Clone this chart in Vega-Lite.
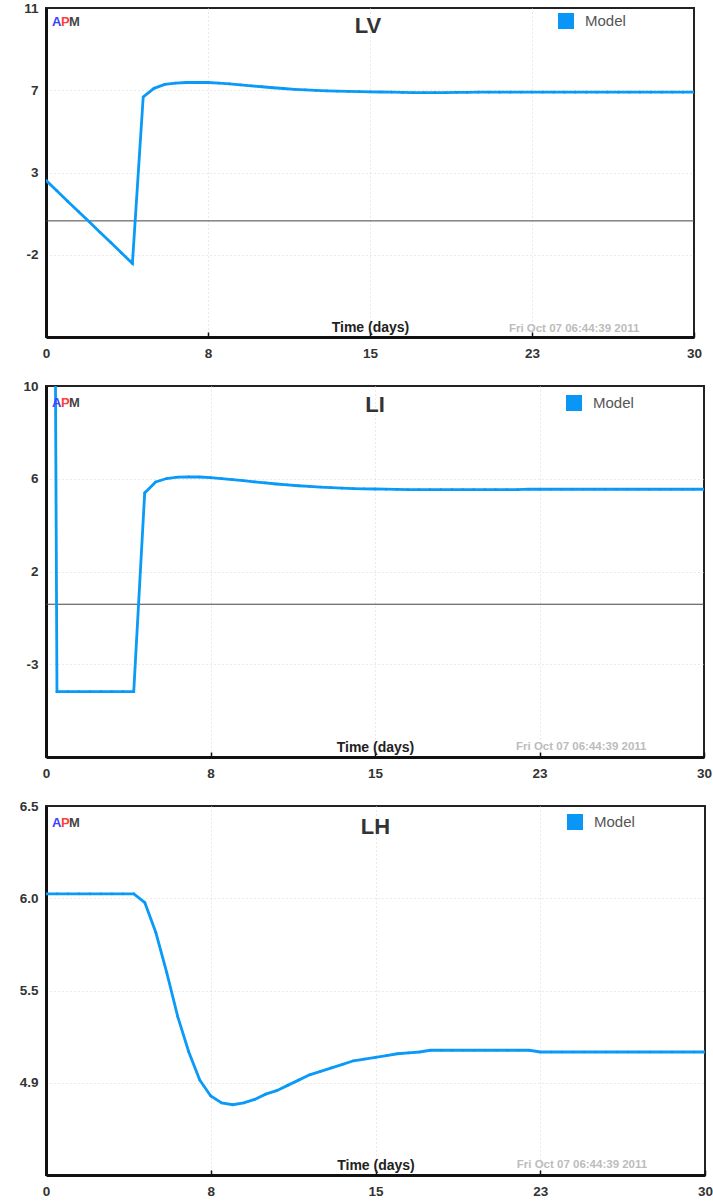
{
  "$schema": "https://vega.github.io/schema/vega-lite/v6.json",
  "background": "white",
  "padding": {"left": 18, "top": 0, "right": 0, "bottom": 0},
  "spacing": 49,
  "bounds": "flush",
  "datasets": {
    "lv": [
      {"t": 0, "v": 2.1}, {"t": 0.5, "v": 1.56}, {"t": 1, "v": 1.02}, {"t": 1.5, "v": 0.49}, {"t": 2, "v": -0.05},
      {"t": 2.5, "v": -0.59}, {"t": 3, "v": -1.12}, {"t": 3.5, "v": -1.66}, {"t": 4, "v": -2.2}, {"t": 4.5, "v": 6.4},
      {"t": 5, "v": 6.85}, {"t": 5.5, "v": 7.05}, {"t": 6, "v": 7.12}, {"t": 6.5, "v": 7.15}, {"t": 7, "v": 7.16},
      {"t": 7.5, "v": 7.15}, {"t": 8, "v": 7.12}, {"t": 8.5, "v": 7.08}, {"t": 9, "v": 7.03}, {"t": 9.5, "v": 6.98},
      {"t": 10, "v": 6.93}, {"t": 10.5, "v": 6.88}, {"t": 11, "v": 6.84}, {"t": 11.5, "v": 6.8}, {"t": 12, "v": 6.77},
      {"t": 12.5, "v": 6.74}, {"t": 13, "v": 6.72}, {"t": 13.5, "v": 6.7}, {"t": 14, "v": 6.69}, {"t": 14.5, "v": 6.68},
      {"t": 15, "v": 6.67}, {"t": 15.5, "v": 6.66}, {"t": 16, "v": 6.65}, {"t": 16.5, "v": 6.64}, {"t": 17, "v": 6.63},
      {"t": 17.5, "v": 6.63}, {"t": 18, "v": 6.63}, {"t": 18.5, "v": 6.63}, {"t": 19, "v": 6.64}, {"t": 19.5, "v": 6.64},
      {"t": 20, "v": 6.65}, {"t": 20.5, "v": 6.65}, {"t": 21, "v": 6.65}, {"t": 21.5, "v": 6.65}, {"t": 22, "v": 6.65},
      {"t": 22.5, "v": 6.65}, {"t": 23, "v": 6.65}, {"t": 23.5, "v": 6.65}, {"t": 24, "v": 6.65}, {"t": 24.5, "v": 6.65},
      {"t": 25, "v": 6.65}, {"t": 25.5, "v": 6.65}, {"t": 26, "v": 6.65}, {"t": 26.5, "v": 6.65}, {"t": 27, "v": 6.65},
      {"t": 27.5, "v": 6.65}, {"t": 28, "v": 6.65}, {"t": 28.5, "v": 6.65}, {"t": 29, "v": 6.65}, {"t": 29.5, "v": 6.65},
      {"t": 30, "v": 6.65}
    ],
    "li": [
      {"t": 0, "v": 100}, {"t": 0.5, "v": -4}, {"t": 1, "v": -4}, {"t": 1.5, "v": -4}, {"t": 2, "v": -4},
      {"t": 2.5, "v": -4}, {"t": 3, "v": -4}, {"t": 3.5, "v": -4}, {"t": 4, "v": -4}, {"t": 4.5, "v": 5.1},
      {"t": 5, "v": 5.6}, {"t": 5.5, "v": 5.76}, {"t": 6, "v": 5.82}, {"t": 6.5, "v": 5.84}, {"t": 7, "v": 5.83},
      {"t": 7.5, "v": 5.8}, {"t": 8, "v": 5.76}, {"t": 8.5, "v": 5.71}, {"t": 9, "v": 5.66}, {"t": 9.5, "v": 5.61},
      {"t": 10, "v": 5.56}, {"t": 10.5, "v": 5.51}, {"t": 11, "v": 5.47}, {"t": 11.5, "v": 5.43}, {"t": 12, "v": 5.4},
      {"t": 12.5, "v": 5.37}, {"t": 13, "v": 5.34}, {"t": 13.5, "v": 5.32}, {"t": 14, "v": 5.3}, {"t": 14.5, "v": 5.29},
      {"t": 15, "v": 5.28}, {"t": 15.5, "v": 5.27}, {"t": 16, "v": 5.26}, {"t": 16.5, "v": 5.25}, {"t": 17, "v": 5.25},
      {"t": 17.5, "v": 5.25}, {"t": 18, "v": 5.25}, {"t": 18.5, "v": 5.25}, {"t": 19, "v": 5.25}, {"t": 19.5, "v": 5.25},
      {"t": 20, "v": 5.25}, {"t": 20.5, "v": 5.25}, {"t": 21, "v": 5.25}, {"t": 21.5, "v": 5.25}, {"t": 22, "v": 5.27},
      {"t": 22.5, "v": 5.27}, {"t": 23, "v": 5.27}, {"t": 23.5, "v": 5.27}, {"t": 24, "v": 5.27}, {"t": 24.5, "v": 5.27},
      {"t": 25, "v": 5.27}, {"t": 25.5, "v": 5.27}, {"t": 26, "v": 5.27}, {"t": 26.5, "v": 5.27}, {"t": 27, "v": 5.27},
      {"t": 27.5, "v": 5.27}, {"t": 28, "v": 5.27}, {"t": 28.5, "v": 5.27}, {"t": 29, "v": 5.27}, {"t": 29.5, "v": 5.27},
      {"t": 30, "v": 5.27}
    ],
    "lh": [
      {"t": 0, "v": 6.0}, {"t": 0.5, "v": 6.0}, {"t": 1, "v": 6.0}, {"t": 1.5, "v": 6.0}, {"t": 2, "v": 6.0},
      {"t": 2.5, "v": 6.0}, {"t": 3, "v": 6.0}, {"t": 3.5, "v": 6.0}, {"t": 4, "v": 6.0}, {"t": 4.5, "v": 5.95},
      {"t": 5, "v": 5.78}, {"t": 5.5, "v": 5.55}, {"t": 6, "v": 5.3}, {"t": 6.5, "v": 5.1}, {"t": 7, "v": 4.94},
      {"t": 7.5, "v": 4.85}, {"t": 8, "v": 4.81}, {"t": 8.5, "v": 4.8}, {"t": 9, "v": 4.81}, {"t": 9.5, "v": 4.83},
      {"t": 10, "v": 4.86}, {"t": 10.5, "v": 4.88}, {"t": 11, "v": 4.91}, {"t": 11.5, "v": 4.94}, {"t": 12, "v": 4.97},
      {"t": 12.5, "v": 4.99}, {"t": 13, "v": 5.01}, {"t": 13.5, "v": 5.03}, {"t": 14, "v": 5.05}, {"t": 14.5, "v": 5.06},
      {"t": 15, "v": 5.07}, {"t": 15.5, "v": 5.08}, {"t": 16, "v": 5.09}, {"t": 16.5, "v": 5.095}, {"t": 17, "v": 5.1},
      {"t": 17.5, "v": 5.11}, {"t": 18, "v": 5.11}, {"t": 18.5, "v": 5.11}, {"t": 19, "v": 5.11}, {"t": 19.5, "v": 5.11},
      {"t": 20, "v": 5.11}, {"t": 20.5, "v": 5.11}, {"t": 21, "v": 5.11}, {"t": 21.5, "v": 5.11}, {"t": 22, "v": 5.11},
      {"t": 22.5, "v": 5.1}, {"t": 23, "v": 5.1}, {"t": 23.5, "v": 5.1}, {"t": 24, "v": 5.1}, {"t": 24.5, "v": 5.1},
      {"t": 25, "v": 5.1}, {"t": 25.5, "v": 5.1}, {"t": 26, "v": 5.1}, {"t": 26.5, "v": 5.1}, {"t": 27, "v": 5.1},
      {"t": 27.5, "v": 5.1}, {"t": 28, "v": 5.1}, {"t": 28.5, "v": 5.1}, {"t": 29, "v": 5.1}, {"t": 29.5, "v": 5.1},
      {"t": 30, "v": 5.1}
    ]
  },
  "resolve": {"legend": {"color": "independent"}},
  "vconcat": [
    {
      "width": 648,
      "height": 329,
      "layer": [
        {
          "data": {"values": [{"z": 0}]},
          "mark": {"type": "rule", "color": "#444", "strokeWidth": 1},
          "encoding": {"y": {"field": "z", "type": "quantitative"}}
        },
        {
          "data": {"name": "lv"},
          "mark": {"type": "line", "color": "#0a9af7", "strokeWidth": 2.8, "clip": true},
          "encoding": {
            "x": {"field": "t", "type": "quantitative", "scale": {"domain": [0, 30], "nice": false}, "axis": {"title": "Time (days)", "values": [0, 7.5, 15, 22.5, 30], "labelExpr": "'' + round(datum.value)"}},
            "y": {"field": "v", "type": "quantitative", "scale": {"domain": [-6, 11], "nice": false, "zero": false}, "axis": {"title": null, "values": [11, 6.75, 2.5, -1.75], "labelExpr": "'' + round(datum.value)", "gridColor": {"condition": {"test": "datum.value >= 11", "value": "transparent"}, "value": "#d4d4d4"}}}
          }
        },
        {
          "data": {"name": "lv"},
          "mark": {"type": "point", "filled": true, "size": 7, "opacity": 1, "clip": true},
          "encoding": {
            "x": {"field": "t", "type": "quantitative"},
            "y": {"field": "v", "type": "quantitative"},
            "color": {"datum": "Model", "scale": {"domain": ["Model"], "range": ["#0a96f7"]}, "legend": {"orient": "none", "legendX": 512, "legendY": 5}}
          }
        },
        {
          "data": {"values": [{"x": 0, "y": 11, "s": "A"}]},
          "mark": {"type": "text", "align": "left", "baseline": "middle", "dx": 6, "dy": 14, "fontSize": 13, "fontWeight": "bold", "color": "#4040ff"},
          "encoding": {"x": {"field": "x", "type": "quantitative"}, "y": {"field": "y", "type": "quantitative"}, "text": {"field": "s"}}
        },
        {
          "data": {"values": [{"x": 0, "y": 11, "s": "P"}]},
          "mark": {"type": "text", "align": "left", "baseline": "middle", "dx": 15, "dy": 14, "fontSize": 13, "fontWeight": "bold", "color": "#ff4040"},
          "encoding": {"x": {"field": "x", "type": "quantitative"}, "y": {"field": "y", "type": "quantitative"}, "text": {"field": "s"}}
        },
        {
          "data": {"values": [{"x": 0, "y": 11, "s": "M"}]},
          "mark": {"type": "text", "align": "left", "baseline": "middle", "dx": 23, "dy": 14, "fontSize": 13, "fontWeight": "bold", "color": "#444"},
          "encoding": {"x": {"field": "x", "type": "quantitative"}, "y": {"field": "y", "type": "quantitative"}, "text": {"field": "s"}}
        },
        {
          "data": {"values": [{"x": 15, "y": 11, "s": "LV"}]},
          "mark": {"type": "text", "align": "center", "baseline": "middle", "dx": -2, "dy": 18, "fontSize": 22, "fontWeight": "bold", "color": "#333"},
          "encoding": {"x": {"field": "x", "type": "quantitative"}, "y": {"field": "y", "type": "quantitative"}, "text": {"field": "s"}}
        },
        {
          "data": {"values": [{"x": 21.43, "y": -6, "s": "Fri Oct 07 06:44:39 2011"}]},
          "mark": {"type": "text", "align": "left", "baseline": "middle", "dy": -8, "fontSize": 11.5, "fontWeight": "bold", "color": "#bcbcbc"},
          "encoding": {"x": {"field": "x", "type": "quantitative"}, "y": {"field": "y", "type": "quantitative"}, "text": {"field": "s"}}
        }
      ]
    },
    {
      "width": 658,
      "height": 371,
      "layer": [
        {
          "data": {"values": [{"z": 0}]},
          "mark": {"type": "rule", "color": "#444", "strokeWidth": 1},
          "encoding": {"y": {"field": "z", "type": "quantitative"}}
        },
        {
          "data": {"name": "li"},
          "mark": {"type": "line", "color": "#0a9af7", "strokeWidth": 2.8, "clip": true},
          "encoding": {
            "x": {"field": "t", "type": "quantitative", "scale": {"domain": [0, 30], "nice": false}, "axis": {"title": "Time (days)", "values": [0, 7.5, 15, 22.5, 30], "labelExpr": "'' + round(datum.value)"}},
            "y": {"field": "v", "type": "quantitative", "scale": {"domain": [-7, 10], "nice": false, "zero": false}, "axis": {"title": null, "values": [10, 5.75, 1.5, -2.75], "labelExpr": "'' + round(datum.value)", "gridColor": {"condition": {"test": "datum.value >= 10", "value": "transparent"}, "value": "#d4d4d4"}}}
          }
        },
        {
          "data": {"name": "li"},
          "mark": {"type": "point", "filled": true, "size": 7, "opacity": 1, "clip": true},
          "encoding": {
            "x": {"field": "t", "type": "quantitative"},
            "y": {"field": "v", "type": "quantitative"},
            "color": {"datum": "Model", "scale": {"domain": ["Model"], "range": ["#0a96f7"]}, "legend": {"orient": "none", "legendX": 520, "legendY": 9}}
          }
        },
        {
          "data": {"values": [{"x": 0, "y": 10, "s": "A"}]},
          "mark": {"type": "text", "align": "left", "baseline": "middle", "dx": 6, "dy": 17, "fontSize": 13, "fontWeight": "bold", "color": "#4040ff"},
          "encoding": {"x": {"field": "x", "type": "quantitative"}, "y": {"field": "y", "type": "quantitative"}, "text": {"field": "s"}}
        },
        {
          "data": {"values": [{"x": 0, "y": 10, "s": "P"}]},
          "mark": {"type": "text", "align": "left", "baseline": "middle", "dx": 15, "dy": 17, "fontSize": 13, "fontWeight": "bold", "color": "#ff4040"},
          "encoding": {"x": {"field": "x", "type": "quantitative"}, "y": {"field": "y", "type": "quantitative"}, "text": {"field": "s"}}
        },
        {
          "data": {"values": [{"x": 0, "y": 10, "s": "M"}]},
          "mark": {"type": "text", "align": "left", "baseline": "middle", "dx": 23, "dy": 17, "fontSize": 13, "fontWeight": "bold", "color": "#444"},
          "encoding": {"x": {"field": "x", "type": "quantitative"}, "y": {"field": "y", "type": "quantitative"}, "text": {"field": "s"}}
        },
        {
          "data": {"values": [{"x": 15, "y": 10, "s": "LI"}]},
          "mark": {"type": "text", "align": "center", "baseline": "middle", "dx": 0, "dy": 19, "fontSize": 22, "fontWeight": "bold", "color": "#333"},
          "encoding": {"x": {"field": "x", "type": "quantitative"}, "y": {"field": "y", "type": "quantitative"}, "text": {"field": "s"}}
        },
        {
          "data": {"values": [{"x": 21.43, "y": -7, "s": "Fri Oct 07 06:44:39 2011"}]},
          "mark": {"type": "text", "align": "left", "baseline": "middle", "dy": -10, "fontSize": 11.5, "fontWeight": "bold", "color": "#bcbcbc"},
          "encoding": {"x": {"field": "x", "type": "quantitative"}, "y": {"field": "y", "type": "quantitative"}, "text": {"field": "s"}}
        }
      ]
    },
    {
      "width": 659,
      "height": 369,
      "layer": [
        {
          "data": {"name": "lh"},
          "mark": {"type": "line", "color": "#0a9af7", "strokeWidth": 2.8, "clip": true},
          "encoding": {
            "x": {"field": "t", "type": "quantitative", "scale": {"domain": [0, 30], "nice": false}, "axis": {"title": "Time (days)", "values": [0, 7.5, 15, 22.5, 30], "labelExpr": "'' + round(datum.value)"}},
            "y": {"field": "v", "type": "quantitative", "scale": {"domain": [4.4, 6.5], "nice": false, "zero": false}, "axis": {"title": null, "values": [6.5, 5.975, 5.45, 4.925], "labelExpr": "format(datum.value, '.1f')", "gridColor": {"condition": {"test": "datum.value >= 6.5", "value": "transparent"}, "value": "#d4d4d4"}}}
          }
        },
        {
          "data": {"name": "lh"},
          "mark": {"type": "point", "filled": true, "size": 7, "opacity": 1, "clip": true},
          "encoding": {
            "x": {"field": "t", "type": "quantitative"},
            "y": {"field": "v", "type": "quantitative"},
            "color": {"datum": "Model", "scale": {"domain": ["Model"], "range": ["#0a96f7"]}, "legend": {"orient": "none", "legendX": 521, "legendY": 8}}
          }
        },
        {
          "data": {"values": [{"x": 0, "y": 6.5, "s": "A"}]},
          "mark": {"type": "text", "align": "left", "baseline": "middle", "dx": 6, "dy": 17, "fontSize": 13, "fontWeight": "bold", "color": "#4040ff"},
          "encoding": {"x": {"field": "x", "type": "quantitative"}, "y": {"field": "y", "type": "quantitative"}, "text": {"field": "s"}}
        },
        {
          "data": {"values": [{"x": 0, "y": 6.5, "s": "P"}]},
          "mark": {"type": "text", "align": "left", "baseline": "middle", "dx": 15, "dy": 17, "fontSize": 13, "fontWeight": "bold", "color": "#ff4040"},
          "encoding": {"x": {"field": "x", "type": "quantitative"}, "y": {"field": "y", "type": "quantitative"}, "text": {"field": "s"}}
        },
        {
          "data": {"values": [{"x": 0, "y": 6.5, "s": "M"}]},
          "mark": {"type": "text", "align": "left", "baseline": "middle", "dx": 23, "dy": 17, "fontSize": 13, "fontWeight": "bold", "color": "#444"},
          "encoding": {"x": {"field": "x", "type": "quantitative"}, "y": {"field": "y", "type": "quantitative"}, "text": {"field": "s"}}
        },
        {
          "data": {"values": [{"x": 15, "y": 6.5, "s": "LH"}]},
          "mark": {"type": "text", "align": "center", "baseline": "middle", "dx": 0, "dy": 21, "fontSize": 22, "fontWeight": "bold", "color": "#333"},
          "encoding": {"x": {"field": "x", "type": "quantitative"}, "y": {"field": "y", "type": "quantitative"}, "text": {"field": "s"}}
        },
        {
          "data": {"values": [{"x": 21.43, "y": 4.4, "s": "Fri Oct 07 06:44:39 2011"}]},
          "mark": {"type": "text", "align": "left", "baseline": "middle", "dy": -10, "fontSize": 11.5, "fontWeight": "bold", "color": "#bcbcbc"},
          "encoding": {"x": {"field": "x", "type": "quantitative"}, "y": {"field": "y", "type": "quantitative"}, "text": {"field": "s"}}
        }
      ]
    }
  ],
  "config": {
    "font": "Liberation Sans",
    "view": {"stroke": "#222", "strokeWidth": 2},
    "text": {"font": "Liberation Sans"},
    "axis": {
      "labelFont": "Liberation Sans",
      "labelFontSize": 13.5,
      "labelFontWeight": "bold",
      "labelColor": "#333",
      "domainColor": "#111",
      "domainWidth": 3,
      "gridColor": "#d4d4d4",
      "gridDash": [1, 3],
      "gridWidth": 1,
      "labelFlush": false,
      "labelOverlap": false,
      "titleFont": "Liberation Sans"
    },
    "axisX": {
      "tickColor": "#111",
      "tickSize": -5,
      "tickWidth": 1.5,
      "labelPadding": 14,
      "titleFontSize": 14,
      "titleFontWeight": "bold",
      "titleColor": "#222",
      "titleBaseline": "middle",
      "titleY": -10,
      "gridColor": {"condition": {"test": "datum.value <= 0 || datum.value >= 30", "value": "transparent"}, "value": "#d4d4d4"}
    },
    "axisY": {"ticks": false, "labelPadding": 8},
    "legend": {
      "title": null,
      "padding": 0,
      "symbolType": "square",
      "symbolSize": 256,
      "symbolStrokeWidth": 0,
      "symbolOpacity": 1,
      "labelFont": "Liberation Sans",
      "labelFontSize": 15,
      "labelColor": "#555",
      "labelOffset": 11
    }
  }
}
